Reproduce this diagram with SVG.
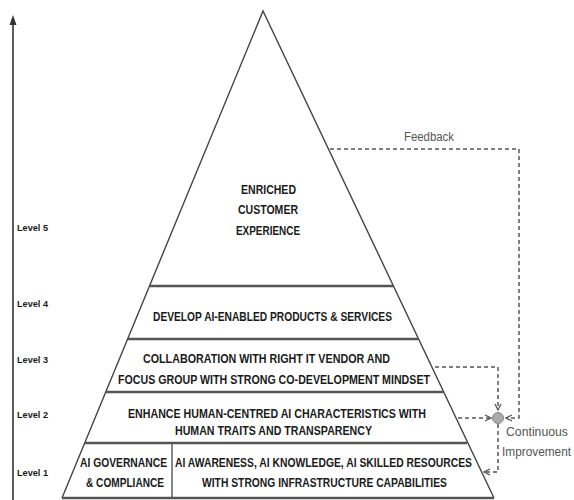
<svg xmlns="http://www.w3.org/2000/svg" width="574" height="500" viewBox="0 0 574 500">
<style>
.edge{fill:none;stroke:#444;stroke-width:1.4}
.band{stroke:#555;stroke-width:2.4}
.t{font-family:"Liberation Sans",Arial,sans-serif;font-weight:bold;font-size:12px;fill:#1a1a1a;text-anchor:start}
.lv{font-family:"Liberation Sans",Arial,sans-serif;font-weight:bold;font-size:9.5px;fill:#1a1a1a}
.g{font-family:"Liberation Sans",Arial,sans-serif;font-size:12px;fill:#555}
.dash{fill:none;stroke:#555;stroke-width:1.5;stroke-dasharray:4 3}
</style>
<defs>
<marker id="chev" viewBox="0 0 8 8" refX="7" refY="4" markerWidth="8" markerHeight="8" markerUnits="userSpaceOnUse" orient="auto">
<path d="M1,1 L7,4 L1,7" fill="none" stroke="#555" stroke-width="1.3"/>
</marker>
</defs>
<g id="axis">
<line x1="13" y1="22" x2="13" y2="500" stroke="#333" stroke-width="1.6"/>
<polygon points="13,15 9.5,25 16.5,25" fill="#333"/>
</g>
<g id="levels">
<text class="lv" x="17" y="231" textLength="31" lengthAdjust="spacingAndGlyphs">Level 5</text>
<text class="lv" x="17" y="307" textLength="31" lengthAdjust="spacingAndGlyphs">Level 4</text>
<text class="lv" x="17" y="363" textLength="31" lengthAdjust="spacingAndGlyphs">Level 3</text>
<text class="lv" x="17" y="418" textLength="31" lengthAdjust="spacingAndGlyphs">Level 2</text>
<text class="lv" x="17" y="476" textLength="31" lengthAdjust="spacingAndGlyphs">Level 1</text>
</g>
<g id="pyramid">
<polyline class="edge" points="62,498 263,11 494,498"/>
<line class="band" x1="62" y1="498" x2="494" y2="498"/>
</g>
<g id="level5">
<text class="t" x="241" y="193.5" textLength="55" lengthAdjust="spacingAndGlyphs">ENRICHED</text>
<text class="t" x="238" y="213.5" textLength="60" lengthAdjust="spacingAndGlyphs">CUSTOMER</text>
<text class="t" x="236" y="234.5" textLength="64" lengthAdjust="spacingAndGlyphs">EXPERIENCE</text>
</g>
<g id="level4">
<line class="band" x1="150" y1="286" x2="393" y2="286"/>
<text class="t" x="153" y="320.5" textLength="239" lengthAdjust="spacingAndGlyphs">DEVELOP AI-ENABLED PRODUCTS &amp; SERVICES</text>
</g>
<g id="level3">
<line class="band" x1="128" y1="339" x2="418" y2="339"/>
<text class="t" x="143" y="362.5" textLength="247" lengthAdjust="spacingAndGlyphs">COLLABORATION WITH RIGHT IT VENDOR AND</text>
<text class="t" x="118" y="383.5" textLength="312" lengthAdjust="spacingAndGlyphs">FOCUS GROUP WITH STRONG CO-DEVELOPMENT MINDSET</text>
</g>
<g id="level2">
<line class="band" x1="106" y1="392" x2="443" y2="392"/>
<text class="t" x="128" y="417.5" textLength="298" lengthAdjust="spacingAndGlyphs">ENHANCE HUMAN-CENTRED AI CHARACTERISTICS WITH</text>
<text class="t" x="175" y="434.5" textLength="197" lengthAdjust="spacingAndGlyphs">HUMAN TRAITS AND TRANSPARENCY</text>
</g>
<g id="level1-governance">
<line class="band" x1="85" y1="443" x2="467" y2="443"/>
<line x1="172" y1="443" x2="172" y2="498" stroke="#555" stroke-width="1.4"/>
<text class="t" x="80" y="466.5" textLength="87" lengthAdjust="spacingAndGlyphs">AI GOVERNANCE</text>
<text class="t" x="86" y="486.5" textLength="78" lengthAdjust="spacingAndGlyphs">&amp; COMPLIANCE</text>
</g>
<g id="level1-awareness">
<text class="t" x="175" y="466.5" textLength="297" lengthAdjust="spacingAndGlyphs">AI AWARENESS, AI KNOWLEDGE, AI SKILLED RESOURCES</text>
<text class="t" x="202" y="486.5" textLength="245" lengthAdjust="spacingAndGlyphs">WITH STRONG INFRASTRUCTURE CAPABILITIES</text>
</g>
<g id="hub">
<circle cx="498" cy="418" r="5.5" fill="#aaa" stroke="#888" stroke-width="1"/>
</g>
<g id="connectors">
<path class="dash" d="M330,149 H519 V418 H506" marker-end="url(#chev)"/>
<path class="dash" d="M435,367 H498 V410" marker-end="url(#chev)"/>
<path class="dash" d="M458,418 H491" marker-end="url(#chev)"/>
<path class="dash" d="M498,424 V472 H484" marker-end="url(#chev)"/>
</g>
<g id="labels">
<text class="g" x="404" y="141" textLength="50" lengthAdjust="spacingAndGlyphs">Feedback</text>
<text class="g" x="506" y="436" textLength="62" lengthAdjust="spacingAndGlyphs">Continuous</text>
<text class="g" x="502" y="456" textLength="69" lengthAdjust="spacingAndGlyphs">Improvement</text>
</g>
</svg>
